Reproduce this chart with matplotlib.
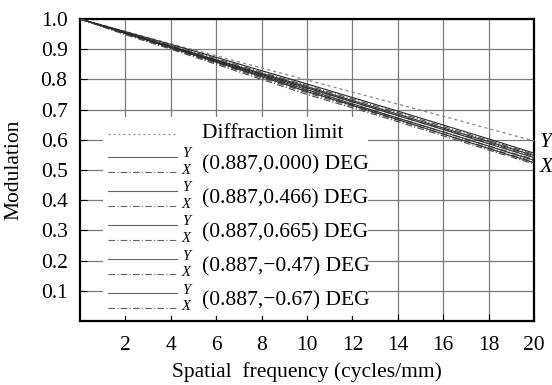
import matplotlib
matplotlib.use("Agg")
import matplotlib.pyplot as plt
from matplotlib.patches import Rectangle

plt.rcParams['font.family'] = ['Liberation Serif', 'DejaVu Serif']

freq = [0, 2, 4, 6, 8, 10, 12, 14, 16, 18, 20]
diffraction = [1.0, 0.959, 0.918, 0.878, 0.838, 0.798, 0.758, 0.718, 0.678, 0.637, 0.596]

field_labels = ["(0.887,0.000) DEG", "(0.887,0.466) DEG", "(0.887,0.665) DEG",
                "(0.887,\u22120.47) DEG", "(0.887,\u22120.67) DEG"]

y_f0 = [1.0, 0.958, 0.916, 0.873, 0.829, 0.785, 0.740, 0.695, 0.649, 0.603, 0.556]
x_f0 = [1.0, 0.956, 0.913, 0.869, 0.824, 0.780, 0.735, 0.690, 0.644, 0.598, 0.552]
y_f1 = [1.0, 0.955, 0.910, 0.865, 0.820, 0.776, 0.730, 0.685, 0.639, 0.594, 0.548]
x_f1 = [1.0, 0.953, 0.907, 0.861, 0.816, 0.770, 0.725, 0.680, 0.635, 0.590, 0.545]
y_f2 = [1.0, 0.955, 0.909, 0.863, 0.817, 0.772, 0.726, 0.680, 0.634, 0.587, 0.541]
x_f2 = [1.0, 0.951, 0.904, 0.857, 0.810, 0.762, 0.716, 0.672, 0.626, 0.580, 0.535]
y_f3 = [1.0, 0.953, 0.906, 0.860, 0.813, 0.766, 0.719, 0.672, 0.626, 0.579, 0.532]
x_f3 = [1.0, 0.950, 0.902, 0.854, 0.805, 0.756, 0.711, 0.665, 0.619, 0.573, 0.527]
y_f4 = [1.0, 0.952, 0.905, 0.857, 0.809, 0.760, 0.714, 0.667, 0.619, 0.571, 0.524]
x_f4 = [1.0, 0.948, 0.900, 0.850, 0.800, 0.750, 0.706, 0.660, 0.613, 0.566, 0.520]

y_series = [y_f0, y_f1, y_f2, y_f3, y_f4]
x_series = [x_f0, x_f1, x_f2, x_f3, x_f4]

xticks = [2, 4, 6, 8, 10, 12, 14, 16, 18, 20]
yticks = [0.1, 0.2, 0.3, 0.4, 0.5, 0.6, 0.7, 0.8, 0.9, 1.0]

FS = 15.5

W, H = 552, 385
fig = plt.figure(figsize=(W / 100, H / 100), dpi=100)
ax = fig.add_axes([80 / W, 1 - 321 / H, (534 - 80) / W, (321 - 19) / H])

solid_color = '#2a2a2a'
dd_color = '#4a4a4a'
diff_color = '#888888'

ax.plot(freq, diffraction, color=diff_color, lw=0.9, ls=(0, (2.5, 2.5)), zorder=3)
for ys, xs in zip(y_series, x_series):
    ax.plot(freq, ys, color=solid_color, lw=0.8, ls='-', zorder=3)
    ax.plot(freq, xs, color=dd_color, lw=0.8, ls=(0, (6, 2, 1, 2)), zorder=3)

ax.set_xlim(0, 20)
ax.set_ylim(0, 1.0)
ax.set_xticks(xticks)
ax.set_xticklabels([str(t) for t in xticks])
ax.set_yticks(yticks)
ax.set_yticklabels([f"{t:.1f}" for t in yticks])
ax.grid(True, color='#7a7a7a', lw=0.9)
ax.set_axisbelow(True)
ax.tick_params(direction='in', length=5, width=0.8, labelsize=FS, colors='black')
ax.tick_params(axis='x', pad=11)
ax.tick_params(axis='y', pad=9)
for s in ax.spines.values():
    s.set_linewidth(1.6)
    s.set_color('black')

ax.set_xlabel("Spatial  frequency (cycles/mm)", fontsize=FS, labelpad=5)
ax.set_ylabel("Modulation", fontsize=FS, labelpad=12)

# legend block (drawn in pixel-based axes coordinates)
def ax_xy(px, py):
    return ((px - 80) / (534 - 80), (321 - py) / (321 - 19))

x0, y0 = ax_xy(103, 316)
x1, y1 = ax_xy(368, 117)
ax.add_patch(Rectangle((x0, y0), x1 - x0, y1 - y0, transform=ax.transAxes,
                       facecolor='white', edgecolor='none', zorder=4))

lx0 = ax_xy(108, 0)[0]
lx1 = ax_xy(177, 0)[0]
tx = ax_xy(202, 0)[0]
lettx = ax_xy(186, 0)[0]

yy = ax_xy(0, 134)[1]
ax.plot([lx0, lx1], [yy, yy], transform=ax.transAxes, color=diff_color, lw=0.9,
        ls=(0, (1.5, 2.5)), zorder=5)
ax.text(tx, yy, "Diffraction limit", transform=ax.transAxes, fontsize=FS,
        va='center', ha='left', zorder=6)

row_y = [(157, 172), (191, 206), (225, 240), (259, 274), (293, 308)]
for lab, (py, px_) in zip(field_labels, row_y):
    ya = ax_xy(0, py)[1]
    yb = ax_xy(0, px_)[1]
    ax.plot([lx0, lx1], [ya, ya], transform=ax.transAxes, color='#666666', lw=0.8,
            ls='-', zorder=5)
    ax.plot([lx0, lx1], [yb, yb], transform=ax.transAxes, color='#666666', lw=0.8,
            ls=(0, (6, 2, 1, 2)), zorder=5)
    ax.text(lettx, ax_xy(0, py - 3)[1], "Y", transform=ax.transAxes, fontsize=10.5,
            style='italic', va='center', ha='center', zorder=6)
    ax.text(lettx, ax_xy(0, px_ - 1)[1], "X", transform=ax.transAxes, fontsize=10.5,
            style='italic', va='center', ha='center', zorder=6)
    ax.text(tx, (ya + yb) / 2, lab, transform=ax.transAxes, fontsize=FS,
            va='center', ha='left', zorder=6)

# right-side Y / X labels
ax.text(1.012, ax_xy(0, 143)[1], "Y", transform=ax.transAxes, fontsize=FS,
        style='italic', va='center', ha='left', clip_on=False)
ax.text(1.012, ax_xy(0, 168)[1], "X", transform=ax.transAxes, fontsize=FS,
        style='italic', va='center', ha='left', clip_on=False)

fig.savefig("out.png", dpi=100, facecolor='white')
